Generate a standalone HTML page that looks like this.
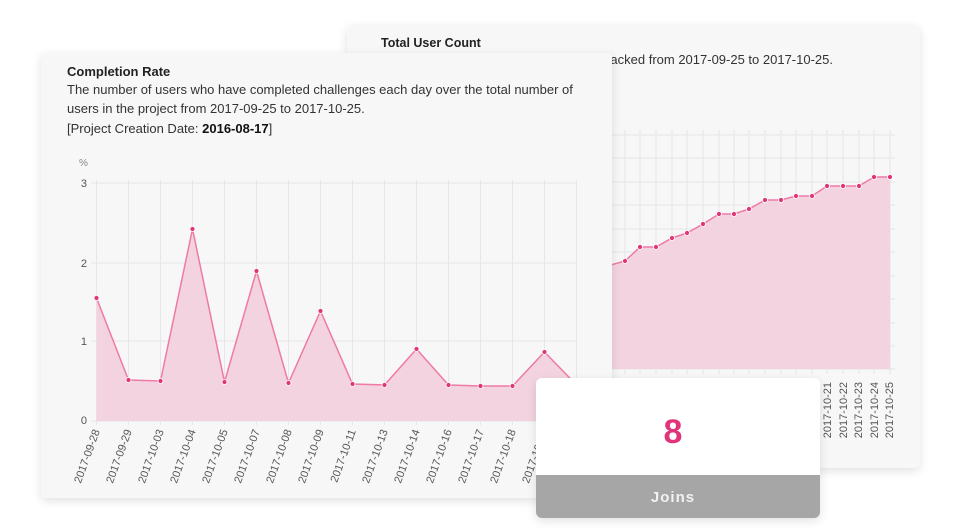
<!DOCTYPE html>
<html><head><meta charset="utf-8"><style>
html,body{margin:0;padding:0;background:#fff;width:960px;height:531px;overflow:hidden}
svg{display:block;font-family:"Liberation Sans",sans-serif}
</style></head><body>
<svg width="960" height="531" viewBox="0 0 960 531" xmlns="http://www.w3.org/2000/svg">
<defs>
<filter id="sh" x="-10%" y="-10%" width="120%" height="130%"><feGaussianBlur in="SourceAlpha" stdDeviation="5"/><feOffset dy="3"/><feComponentTransfer><feFuncA type="linear" slope="0.12"/></feComponentTransfer><feMerge><feMergeNode/><feMergeNode in="SourceGraphic"/></feMerge></filter>
</defs>
<!-- back card -->
<rect x="347" y="25" width="573" height="443" rx="6" fill="#f7f7f7" filter="url(#sh)"/>
<text x="381" y="47" font-size="12.5" font-weight="bold" fill="#222">Total User Count</text>
<text x="833" y="64" font-size="13" fill="#333" text-anchor="end">The total number of users tracked from 2017-09-25 to 2017-10-25.</text>
<g stroke="#e6e6e6" stroke-width="1">
<line x1="420" y1="135" x2="895" y2="135"/><line x1="420" y1="158" x2="895" y2="158"/><line x1="420" y1="182" x2="895" y2="182"/><line x1="420" y1="205" x2="895" y2="205"/><line x1="420" y1="229" x2="895" y2="229"/><line x1="420" y1="252" x2="895" y2="252"/><line x1="420" y1="276" x2="895" y2="276"/><line x1="420" y1="299" x2="895" y2="299"/><line x1="420" y1="323" x2="895" y2="323"/><line x1="420" y1="346" x2="895" y2="346"/><line x1="420" y1="369" x2="895" y2="369"/>
<line x1="625" y1="130" x2="625" y2="374"/><line x1="640" y1="130" x2="640" y2="374"/><line x1="656" y1="130" x2="656" y2="374"/><line x1="672" y1="130" x2="672" y2="374"/><line x1="687" y1="130" x2="687" y2="374"/><line x1="703" y1="130" x2="703" y2="374"/><line x1="719" y1="130" x2="719" y2="374"/><line x1="734" y1="130" x2="734" y2="374"/><line x1="749" y1="130" x2="749" y2="374"/><line x1="765" y1="130" x2="765" y2="374"/><line x1="781" y1="130" x2="781" y2="374"/><line x1="796" y1="130" x2="796" y2="374"/><line x1="812" y1="130" x2="812" y2="374"/><line x1="827" y1="130" x2="827" y2="374"/><line x1="843" y1="130" x2="843" y2="374"/><line x1="859" y1="130" x2="859" y2="374"/><line x1="874" y1="130" x2="874" y2="374"/><line x1="890" y1="130" x2="890" y2="374"/>
</g>
<polygon fill="#f3d3e0" points="600,268 625,261 640,247 656,247 672,238 687,233 703,224 719,214 734,214 749,209 765,200 781,200 796,196 812,196 827,186 843,186 859,186 874,177 890,177 890,369 600,369"/>
<polyline fill="none" stroke="#ee7aa5" stroke-width="1.5" points="600,268 625,261 640,247 656,247 672,238 687,233 703,224 719,214 734,214 749,209 765,200 781,200 796,196 812,196 827,186 843,186 859,186 874,177 890,177"/>
<g fill="#e0357a" stroke="#fff" stroke-width="0.8">
<circle cx="625" cy="261" r="2.5"/><circle cx="640" cy="247" r="2.5"/><circle cx="656" cy="247" r="2.5"/><circle cx="672" cy="238" r="2.5"/><circle cx="687" cy="233" r="2.5"/><circle cx="703" cy="224" r="2.5"/><circle cx="719" cy="214" r="2.5"/><circle cx="734" cy="214" r="2.5"/><circle cx="749" cy="209" r="2.5"/><circle cx="765" cy="200" r="2.5"/><circle cx="781" cy="200" r="2.5"/><circle cx="796" cy="196" r="2.5"/><circle cx="812" cy="196" r="2.5"/><circle cx="827" cy="186" r="2.5"/><circle cx="843" cy="186" r="2.5"/><circle cx="859" cy="186" r="2.5"/><circle cx="874" cy="177" r="2.5"/><circle cx="890" cy="177" r="2.5"/>
</g>
<g font-size="11" fill="#555" text-anchor="end">
<text transform="translate(831,382) rotate(-90)">2017-10-21</text>
<text transform="translate(847,382) rotate(-90)">2017-10-22</text>
<text transform="translate(862,382) rotate(-90)">2017-10-23</text>
<text transform="translate(878,382) rotate(-90)">2017-10-24</text>
<text transform="translate(893,382) rotate(-90)">2017-10-25</text>
</g>
<!-- front card -->
<rect x="41" y="53" width="571" height="445" rx="4" fill="#f7f7f7" filter="url(#sh)"/>
<text x="67" y="76" font-size="13" font-weight="bold" fill="#222">Completion Rate</text>
<text x="67" y="94" font-size="13" fill="#333">The number of users who have completed challenges each day over the total number of</text>
<text x="67" y="113" font-size="13" fill="#333">users in the project from 2017-09-25 to 2017-10-25.</text>
<text x="67" y="133" font-size="13" fill="#333">[Project Creation Date: <tspan font-weight="bold" fill="#111">2016-08-17</tspan>]</text>
<text x="79" y="166" font-size="10" fill="#888">%</text>
<g font-size="11" fill="#555" text-anchor="end">
<text x="87" y="187">3</text><text x="87" y="267">2</text><text x="87" y="345">1</text><text x="87" y="424">0</text>
</g>
<g stroke="#e6e6e6" stroke-width="1">
<line x1="91" y1="183" x2="577" y2="183"/><line x1="91" y1="263" x2="577" y2="263"/><line x1="91" y1="341" x2="577" y2="341"/><line x1="91" y1="421" x2="577" y2="421"/>
<line x1="96.5" y1="180" x2="96.5" y2="425"/><line x1="128.5" y1="180" x2="128.5" y2="425"/><line x1="160.5" y1="180" x2="160.5" y2="425"/><line x1="192.5" y1="180" x2="192.5" y2="425"/><line x1="224.5" y1="180" x2="224.5" y2="425"/><line x1="256.5" y1="180" x2="256.5" y2="425"/><line x1="288.5" y1="180" x2="288.5" y2="425"/><line x1="320.5" y1="180" x2="320.5" y2="425"/><line x1="352.5" y1="180" x2="352.5" y2="425"/><line x1="384.5" y1="180" x2="384.5" y2="425"/><line x1="416.5" y1="180" x2="416.5" y2="425"/><line x1="448.5" y1="180" x2="448.5" y2="425"/><line x1="480.5" y1="180" x2="480.5" y2="425"/><line x1="512.5" y1="180" x2="512.5" y2="425"/><line x1="544.5" y1="180" x2="544.5" y2="425"/><line x1="576.5" y1="180" x2="576.5" y2="425"/>
</g>
<polygon fill="#f3d3e0" points="96.5,298 128.5,380 160.5,381 192.5,229 224.5,382 256.5,271 288.5,383 320.5,311 352.5,384 384.5,385 416.5,349 448.5,385 480.5,386 512.5,386 544.5,352 576.5,385 576.5,421 96.5,421"/>
<polyline fill="none" stroke="#ee7aa5" stroke-width="1.5" points="96.5,298 128.5,380 160.5,381 192.5,229 224.5,382 256.5,271 288.5,383 320.5,311 352.5,384 384.5,385 416.5,349 448.5,385 480.5,386 512.5,386 544.5,352 576.5,385"/>
<g fill="#e0357a" stroke="#fff" stroke-width="0.8">
<circle cx="96.5" cy="298" r="2.5"/><circle cx="128.5" cy="380" r="2.5"/><circle cx="160.5" cy="381" r="2.5"/><circle cx="192.5" cy="229" r="2.5"/><circle cx="224.5" cy="382" r="2.5"/><circle cx="256.5" cy="271" r="2.5"/><circle cx="288.5" cy="383" r="2.5"/><circle cx="320.5" cy="311" r="2.5"/><circle cx="352.5" cy="384" r="2.5"/><circle cx="384.5" cy="385" r="2.5"/><circle cx="416.5" cy="349" r="2.5"/><circle cx="448.5" cy="385" r="2.5"/><circle cx="480.5" cy="386" r="2.5"/><circle cx="512.5" cy="386" r="2.5"/><circle cx="544.5" cy="352" r="2.5"/>
</g>
<g font-size="11" fill="#555" text-anchor="end">
<text transform="translate(100,431) rotate(-70)">2017-09-28</text>
<text transform="translate(132,431) rotate(-70)">2017-09-29</text>
<text transform="translate(164,431) rotate(-70)">2017-10-03</text>
<text transform="translate(196,431) rotate(-70)">2017-10-04</text>
<text transform="translate(228,431) rotate(-70)">2017-10-05</text>
<text transform="translate(260,431) rotate(-70)">2017-10-07</text>
<text transform="translate(292,431) rotate(-70)">2017-10-08</text>
<text transform="translate(324,431) rotate(-70)">2017-10-09</text>
<text transform="translate(356,431) rotate(-70)">2017-10-11</text>
<text transform="translate(388,431) rotate(-70)">2017-10-13</text>
<text transform="translate(420,431) rotate(-70)">2017-10-14</text>
<text transform="translate(452,431) rotate(-70)">2017-10-16</text>
<text transform="translate(484,431) rotate(-70)">2017-10-17</text>
<text transform="translate(516,431) rotate(-70)">2017-10-18</text>
<text transform="translate(548,431) rotate(-70)">2017-10-19</text>
</g>
<!-- joins card -->
<g filter="url(#sh)">
<path d="M542,378 H814 A6,6 0 0 1 820,384 V512 A6,6 0 0 1 814,518 H542 A6,6 0 0 1 536,512 V384 A6,6 0 0 1 542,378 Z" fill="#fff"/>
</g>
<path d="M536,475 H820 V512 A6,6 0 0 1 814,518 H542 A6,6 0 0 1 536,512 Z" fill="#a6a6a6"/>
<text x="673" y="443" font-size="34" font-weight="bold" fill="#e0357a" text-anchor="middle">8</text>
<text x="673" y="502" font-size="15" font-weight="bold" fill="#f2f2f2" text-anchor="middle" letter-spacing="1">Joins</text>
</svg>
</body></html>
